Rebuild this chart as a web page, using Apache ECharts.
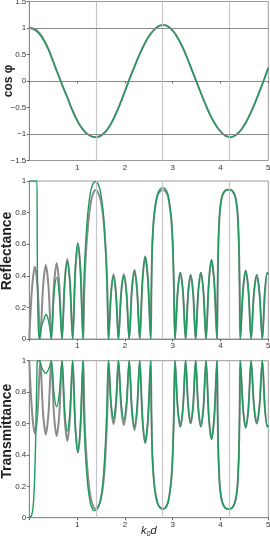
<!DOCTYPE html>
<html><head><meta charset="utf-8">
<script src="https://cdn.jsdelivr.net/npm/echarts@6/dist/echarts.min.js"></script>
<style>html,body{margin:0;padding:0;background:#fff}#c{width:270px;height:537px}</style>
</head><body><div id="c"></div>
<script>
// ---------- data ----------
const kd = [0,0.1,0.2,0.3,0.4,0.5,0.6,0.7,0.8,0.9,1.0,1.1,1.2,1.3,1.4,1.5,1.6,1.7,1.8,1.9,2.0,2.1,2.2,2.3,2.4,2.5,2.6,2.7,2.8,2.9,3.0,3.1,3.2,3.3,3.4,3.5,3.6,3.7,3.8,3.9,4.0,4.1,4.2,4.3,4.4,4.5,4.6,4.7,4.8,4.9,5.0];
const cosGray = [1.0,0.985,0.915,0.785,0.605,0.37,0.13,-0.10,-0.32,-0.55,-0.74,-0.89,-0.99,-1.045,-1.06,-1.03,-0.95,-0.82,-0.64,-0.43,-0.195,0.046,0.27,0.49,0.68,0.84,0.955,1.03,1.055,1.03,0.95,0.82,0.65,0.44,0.21,-0.02,-0.25,-0.47,-0.67,-0.83,-0.95,-1.03,-1.06,-1.03,-0.955,-0.83,-0.66,-0.46,-0.235,0.0,0.25];
const cosGreen = [1.0,0.97,0.895,0.765,0.59,0.36,0.13,-0.10,-0.32,-0.55,-0.74,-0.89,-0.99,-1.045,-1.06,-1.03,-0.95,-0.82,-0.64,-0.43,-0.195,0.046,0.27,0.49,0.68,0.84,0.955,1.03,1.055,1.03,0.95,0.82,0.65,0.44,0.21,-0.02,-0.25,-0.47,-0.67,-0.83,-0.95,-1.03,-1.06,-1.03,-0.955,-0.83,-0.66,-0.46,-0.235,0.0,0.25];

const reflGrayHead = [
[0,0],[0.058,0.325],[0.117,0.458],[0.174,0.325],
[0.23,0],[0.288,0.332],[0.345,0.468],[0.402,0.332],
[0.46,0],[0.516,0.34],[0.572,0.479],[0.628,0.34],
[0.684,0],[0.74,0.359],[0.795,0.506],[0.851,0.359],
[0.907,0],[0.963,0.427],[1.018,0.601],[1.074,0.427],
[1.13,0],[1.15,0.3],[1.18,0.52],[1.235,0.74],[1.29,0.87],[1.34,0.925],[1.39,0.943],[1.44,0.925],[1.5,0.87],[1.563,0.72],[1.61,0.5],[1.635,0.3],
[1.66,0],[1.711,0.291],[1.762,0.41],[1.814,0.291],
[1.865,0],[1.921,0.291],[1.977,0.41],[2.034,0.291],
[2.09,0],[2.145,0.31],[2.2,0.437],[2.255,0.31],
[2.31,0],[2.368,0.371],[2.425,0.523],[2.483,0.371],
[2.54,0],[2.556,0.35],[2.574,0.6],[2.6,0.74],[2.63,0.825],[2.68,0.905],[2.735,0.935],[2.794,0.943],[2.85,0.935],[2.9,0.905],[2.944,0.825],[2.975,0.74],[3.0,0.6],[3.024,0.35]
];
const reflGreenHead = [
[0,1],[0.16,1],[0.166,0.6],[0.175,0.25],[0.19,0.06],[0.207,0],
[0.25,0.075],[0.3,0.12],[0.35,0.155],[0.39,0.13],[0.43,0.07],
[0.46,0],[0.516,0.277],[0.572,0.39],[0.628,0.277],
[0.684,0],[0.74,0.348],[0.795,0.49],[0.851,0.348],
[0.907,0],[0.96,0.433],[1.013,0.61],[1.067,0.433],
[1.12,0],[1.14,0.32],[1.17,0.56],[1.225,0.8],[1.28,0.93],[1.33,0.98],[1.385,0.997],[1.44,0.98],[1.49,0.93],[1.55,0.79],[1.6,0.54],[1.628,0.32],
[1.655,0],[1.707,0.28],[1.76,0.395],[1.812,0.28],
[1.865,0],[1.921,0.284],[1.977,0.4],[2.034,0.284],
[2.09,0],[2.145,0.305],[2.2,0.43],[2.255,0.305],
[2.31,0],[2.368,0.369],[2.425,0.52],[2.483,0.369],
[2.54,0],[2.556,0.35],[2.574,0.61],[2.6,0.75],[2.63,0.835],[2.68,0.915],[2.735,0.948],[2.794,0.958],[2.85,0.948],[2.9,0.915],[2.944,0.835],[2.975,0.75],[3.0,0.61],[3.024,0.35]
];
const reflTail = [
[3.048,0],[3.104,0.298],[3.159,0.42],[3.215,0.298],
[3.27,0],[3.323,0.288],[3.375,0.405],[3.428,0.288],
[3.48,0],[3.534,0.298],[3.589,0.42],[3.643,0.298],
[3.697,0],[3.755,0.355],[3.812,0.5],[3.87,0.355],
[3.927,0],[3.94,0.33],[3.955,0.6],[3.97,0.72],[3.99,0.82],[4.035,0.905],[4.1,0.94],[4.17,0.945],[4.24,0.94],[4.305,0.905],[4.35,0.82],[4.37,0.72],[4.385,0.6],[4.4,0.33],
[4.414,0],[4.471,0.307],[4.527,0.432],[4.584,0.307],
[4.64,0],[4.699,0.288],[4.758,0.405],[4.816,0.288],
[4.875,0],[4.928,0.298],[4.98,0.42],[5.0,0.41]
];

const transGrayHead = [
[0,1],[0.058,0.671],[0.117,0.537],[0.174,0.671],
[0.23,1],[0.288,0.666],[0.345,0.53],[0.402,0.666],
[0.46,1],[0.516,0.659],[0.572,0.52],[0.628,0.659],
[0.684,1],[0.74,0.637],[0.795,0.489],[0.851,0.637],
[0.907,1],[0.963,0.584],[1.018,0.414],[1.074,0.584],
[1.13,1],[1.15,0.7],[1.18,0.47],[1.235,0.24],[1.29,0.12],[1.34,0.07],[1.38,0.056],[1.44,0.07],[1.5,0.12],[1.563,0.26],[1.61,0.5],[1.635,0.7],
[1.66,1],[1.711,0.714],[1.762,0.597],[1.814,0.714],
[1.865,1],[1.921,0.709],[1.977,0.59],[2.034,0.709],
[2.09,1],[2.145,0.687],[2.2,0.559],[2.255,0.687],
[2.31,1],[2.368,0.627],[2.425,0.474],[2.483,0.627]
];
const transGreenHead = [
[0,0],[0.04,0.01],[0.07,0.045],[0.09,0.11],[0.11,0.24],[0.126,0.4],[0.14,0.6],[0.152,0.8],[0.162,0.95],[0.168,1],
[0.207,1],[0.27,0.95],[0.345,0.92],[0.41,0.95],
[0.46,1],[0.516,0.792],[0.572,0.707],[0.628,0.792],
[0.684,1],[0.74,0.682],[0.795,0.552],[0.851,0.682],
[0.907,1],[0.96,0.588],[1.013,0.42],[1.067,0.588],
[1.12,1],[1.14,0.68],[1.17,0.43],[1.225,0.2],[1.28,0.09],[1.33,0.05],[1.37,0.045],[1.42,0.055],[1.48,0.1],[1.54,0.22],[1.59,0.46],[1.62,0.68],
[1.655,1],[1.707,0.739],[1.76,0.633],[1.812,0.739],
[1.865,1],[1.921,0.735],[1.977,0.627],[2.034,0.735],
[2.09,1],[2.145,0.702],[2.2,0.58],[2.255,0.702],
[2.31,1],[2.368,0.631],[2.425,0.48],[2.483,0.631]
];
const transTail = [
[2.54,1],[2.556,0.65],[2.574,0.4],[2.6,0.26],[2.63,0.17],[2.68,0.095],[2.735,0.065],[2.794,0.055],[2.85,0.065],[2.9,0.095],[2.944,0.17],[2.975,0.26],[3.0,0.4],[3.024,0.65],
[3.048,1],[3.104,0.702],[3.159,0.58],[3.215,0.702],
[3.27,1],[3.323,0.716],[3.375,0.6],[3.428,0.716],
[3.48,1],[3.534,0.702],[3.589,0.58],[3.643,0.702],
[3.697,1],[3.755,0.645],[3.812,0.5],[3.87,0.645],
[3.927,1],[3.94,0.67],[3.955,0.41],[3.97,0.29],[3.99,0.185],[4.035,0.1],[4.1,0.062],[4.17,0.055],[4.24,0.062],[4.305,0.1],[4.35,0.185],[4.37,0.29],[4.385,0.41],[4.4,0.67],
[4.414,1],[4.471,0.697],[4.527,0.573],[4.584,0.697],
[4.64,1],[4.699,0.716],[4.758,0.6],[4.816,0.716],
[4.875,1],[4.928,0.702],[4.98,0.58],[5.0,0.59]
];

const bandEdges = [1.395, 2.795, 4.19];
const cosGuides = [1, -1];
const xTicks = [0, 1, 2, 3, 4, 5];
const cosTicks = [-1.5, -1, -0.5, 0, 0.5, 1, 1.5];
const rtTicks = [0, 0.2, 0.4, 0.6, 0.8, 1];

const reflGray = reflGrayHead.concat(reflTail);
const reflGreen = reflGreenHead.concat(reflTail);
const transGray = transGrayHead.concat(transTail);
const transGreen = transGreenHead.concat(transTail);

// ---------- chart ----------
const FONT = '"Liberation Sans", Arial, Helvetica, sans-serif';
const GRAY = '#8c8c8c', GREEN = '#1f9b60';
const chart = echarts.init(document.getElementById('c'), null, {renderer: 'canvas'});

const gridPos = [
  {top: 1.5, height: 159},
  {top: 181, height: 158},
  {top: 360.7, height: 157}
];
const grid = gridPos.map(g => ({left: 29.3, width: 239, top: g.top, height: g.height,
  show: true, borderColor: '#9a9a9a', borderWidth: 1, backgroundColor: 'transparent',
  containLabel: false, outerBoundsMode: 'none'}));

const fmtX = v => (v === 0 ? '' : String(v));
const fmtY = v => String(v).replace('-', '\u2212');

const xAxis = [0, 1, 2].map(i => ({
  type: 'value', gridIndex: i, min: xTicks[0], max: xTicks[xTicks.length - 1], interval: 1,
  axisLine: {show: true, onZero: true, lineStyle: {color: '#8a8a8a', width: 1}},
  axisTick: {show: true, length: 2.5, lineStyle: {color: '#666'}},
  axisLabel: {fontSize: 8, color: '#333', margin: 3, fontFamily: FONT, formatter: fmtX},
  splitLine: {show: false}
}));
xAxis[2].name = '{i|k}{s|0}{i|d}';
xAxis[2].nameLocation = 'middle';
xAxis[2].nameGap = 7;
xAxis[2].nameMoveOverlap = false;
xAxis[2].nameTextStyle = {rich: {
  i: {fontStyle: 'italic', fontSize: 11, fontFamily: FONT, color: '#222', lineHeight: 13, verticalAlign: 'middle'},
  s: {fontSize: 7.5, fontFamily: FONT, color: '#222', lineHeight: 13, verticalAlign: 'bottom'}
}};

const yCommon = {
  type: 'value',
  axisLine: {show: true, lineStyle: {color: '#8a8a8a', width: 1}},
  axisTick: {show: true, length: 2.5, lineStyle: {color: '#666'}},
  axisLabel: {fontSize: 8, color: '#333', margin: 3, fontFamily: FONT, formatter: fmtY},
  splitLine: {show: false},
  nameLocation: 'middle', nameRotate: 90, nameGap: 15, nameMoveOverlap: false
};
const yAxis = [
  Object.assign({}, yCommon, {gridIndex: 0, min: cosTicks[0], max: cosTicks[cosTicks.length-1], interval: 0.5,
    name: 'cos \u03c6', nameTextStyle: {fontSize: 12, fontWeight: 'bold', color: '#222', fontFamily: FONT}}),
  Object.assign({}, yCommon, {gridIndex: 1, min: rtTicks[0], max: rtTicks[rtTicks.length-1], interval: 0.2,
    name: 'Reflectance', nameTextStyle: {fontSize: 14, fontWeight: 'bold', color: '#222', fontFamily: FONT, padding: [0, 0, 0, 18]}}),
  Object.assign({}, yCommon, {gridIndex: 2, min: rtTicks[0], max: rtTicks[rtTicks.length-1], interval: 0.2,
    name: 'Transmittance', nameTextStyle: {fontSize: 14, fontWeight: 'bold', color: '#222', fontFamily: FONT, padding: [0, 0, 0, 16]}})
];

function guideSeries(i, withH) {
  const data = bandEdges.map(v => ({xAxis: v, lineStyle: {color: '#c6c6c6', width: 1.2, type: 'solid'}}));
  if (withH) cosGuides.forEach(v => data.push({yAxis: v, lineStyle: {color: '#8a8a8a', width: 1, type: 'solid'}}));
  return {type: 'line', xAxisIndex: i, yAxisIndex: i, data: [], z: 1, silent: true,
    markLine: {silent: true, symbol: ['none', 'none'], label: {show: false}, animation: false, data: data}};
}
function curve(i, data, color, width, z, smooth) {
  return {type: 'line', xAxisIndex: i, yAxisIndex: i, data: data, showSymbol: false, symbol: 'none',
    smooth: smooth, z: z, clip: true, lineStyle: {color: color, width: width}, silent: true};
}

const option = {
  animation: false,
  backgroundColor: '#fff',
  grid: grid, xAxis: xAxis, yAxis: yAxis,
  series: [
    guideSeries(0, true), guideSeries(1, false), guideSeries(2, false),
    curve(0, kd.map((x, k) => [x, cosGray[k]]), GRAY, 2, 3, 0.5),
    curve(0, kd.map((x, k) => [x, cosGreen[k]]), GREEN, 1.4, 4, 0.5),
    curve(1, reflGray, GRAY, 2, 3, 0.3),
    curve(1, reflGreen, GREEN, 1.4, 4, 0.3),
    curve(2, transGray, GRAY, 2, 3, 0.3),
    curve(2, transGreen, GREEN, 1.4, 4, 0.3)
  ]
};
chart.setOption(option);
</script></body></html>
